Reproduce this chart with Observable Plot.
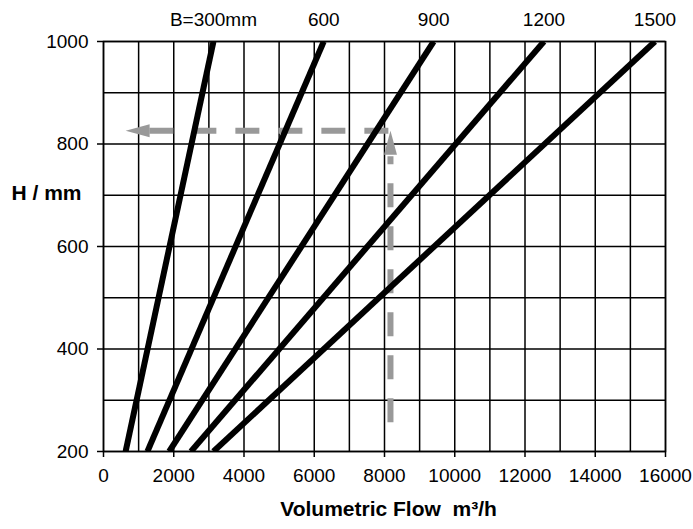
<!DOCTYPE html>
<html>
<head>
<meta charset="utf-8">
<script src="https://cdn.jsdelivr.net/npm/d3@7"></script>
<script src="https://cdn.jsdelivr.net/npm/@observablehq/plot@0.6"></script>
<style>
  html, body { margin: 0; padding: 0; background: #fff; }
</style>
</head>
<body>
<div id="chart"></div>
<script>
// Duct widths (B) and their curve labels
const widths = [300, 600, 900, 1200, 1500];
const topLabels = ["B=300mm", "600", "900", "1200", "1500"];
// Each curve is a straight line from H=200 to H=1000
const hBottom = 200;
const hTop = 1000;
const flowAtBottom = [630, 1250, 1870, 2490, 3130];
const flowAtTop = [3130, 6270, 9400, 12540, 15700];

// Reading example (grey dashed arrows)
const readFlow = 8170;         // vertical reading line
const readHStart = 257;        // bottom of vertical dashed line
const readHHeadBase = 776;     // vertical arrow head base
const readHTip = 826;          // vertical arrow tip / horizontal line level
const readFlowRight = 8110;    // right end of horizontal line
const readFlowHeadBase = 1250; // horizontal arrow head base
const readFlowTip = 630;       // horizontal arrow tip

// Axis ticks
const xGridTicks = d3.range(0, 16001, 1000);
const xLabelTicks = [0, 2000, 4000, 6000, 8000, 10000, 12000, 14000, 16000];
const yGridTicks = [200, 300, 400, 500, 600, 700, 800, 900, 1000];
const yLabelTicks = [200, 400, 600, 800, 1000];

const curves = widths.flatMap((w, i) => [
  {w, flow: flowAtBottom[i], h: hBottom},
  {w, flow: flowAtTop[i], h: hTop}
]);
const tops = widths.map((w, i) => ({flow: flowAtTop[i], h: hTop, label: topLabels[i]}));

const hLine = [{flow: readFlowRight, h: readHTip}, {flow: readFlowHeadBase, h: readHTip}];
const vLine = [{flow: readFlow, h: readHStart}, {flow: readFlow, h: readHHeadBase}];

const arrowLeft = {draw(ctx) { ctx.moveTo(0, 0); ctx.lineTo(24, -6.5); ctx.lineTo(24, 6.5); ctx.closePath(); }};
const arrowUp = {draw(ctx) { ctx.moveTo(0, 0); ctx.lineTo(-6.5, 24); ctx.lineTo(6.5, 24); ctx.closePath(); }};

const font = "'Liberation Sans', Arial, Helvetica, sans-serif";
const fmt = d => String(d);

const chart = Plot.plot({
  width: 693,
  height: 529,
  marginLeft: 103,
  marginRight: 28,
  marginTop: 41,
  marginBottom: 78,
  style: {fontFamily: font, fontSize: "19px", color: "#000", background: "#fff"},
  x: {domain: [0, 16000], label: null},
  y: {domain: [200, 1000], label: null},
  marks: [
    Plot.gridX(xGridTicks, {stroke: "#000", strokeOpacity: 1, strokeWidth: 1.5}),
    Plot.gridY(yGridTicks, {stroke: "#000", strokeOpacity: 1, strokeWidth: 1.5}),
    Plot.frame({stroke: "#000", strokeWidth: 1.5}),
    Plot.axisX(xLabelTicks, {tickSize: 6, tickPadding: 11, tickFormat: fmt, fontSize: 19, stroke: "#000", strokeWidth: 1.5}),
    Plot.axisY(yLabelTicks, {tickSize: 6, tickPadding: 9, tickFormat: fmt, fontSize: 19, stroke: "#000", strokeWidth: 1.5}),
    Plot.line(hLine, {x: "flow", y: "h", stroke: "#999", strokeWidth: 6, strokeDasharray: "24,19", strokeLinecap: "butt"}),
    Plot.line(vLine, {x: "flow", y: "h", stroke: "#999", strokeWidth: 6, strokeDasharray: "24,19", strokeLinecap: "butt"}),
    Plot.dot([{flow: readFlowTip, h: readHTip}], {x: "flow", y: "h", symbol: arrowLeft, fill: "#999", stroke: "none"}),
    Plot.dot([{flow: readFlow, h: readHTip}], {x: "flow", y: "h", symbol: arrowUp, fill: "#999", stroke: "none"}),
    Plot.line(curves, {x: "flow", y: "h", z: "w", stroke: "#000", strokeWidth: 6, strokeLinecap: "butt", clip: true}),
    Plot.text(tops, {x: "flow", y: "h", text: "label", dy: -22, fontSize: 19, fill: "#000"}),
    Plot.text(["H / mm"], {frameAnchor: "top-left", dx: -57, dy: 144, text: d => d, fontSize: 21, fontWeight: "bold", fill: "#000", textAnchor: "middle"}),
    Plot.text(["Volumetric Flow  m³/h"], {frameAnchor: "bottom", dy: 64, dx: 4, text: d => d, fontSize: 21, fontWeight: "bold", fill: "#000", textAnchor: "middle"})
  ]
});
document.getElementById("chart").appendChild(chart);
</script>
</body>
</html>
